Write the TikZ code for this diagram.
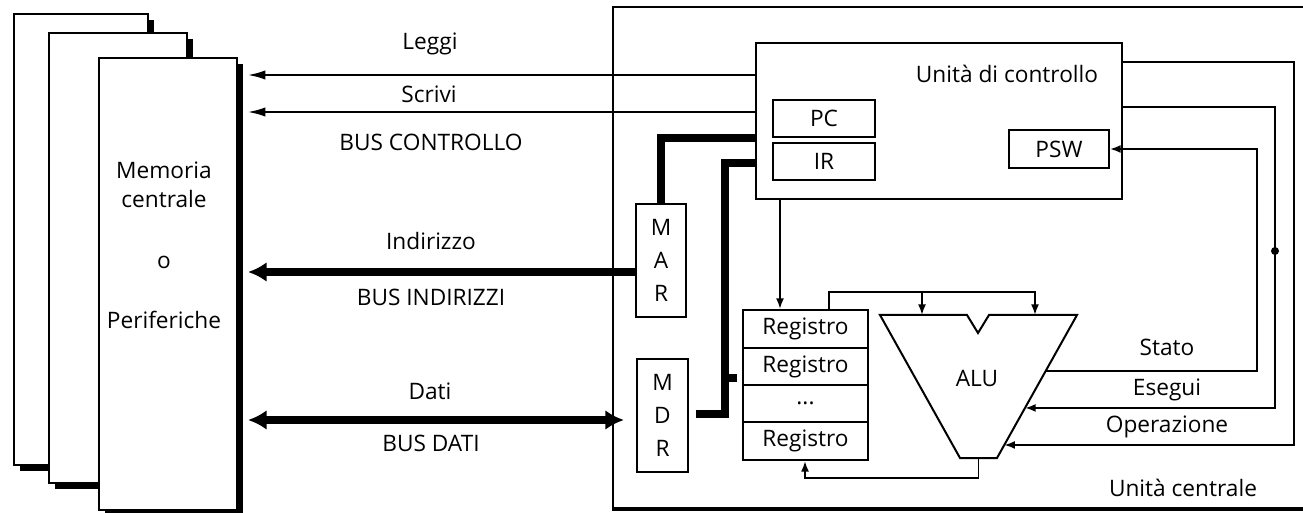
\documentclass[tikz,border=0pt]{standalone}
\usepackage{fontspec}
\setmainfont{Open Sans}
\usetikzlibrary{arrows.meta,fit,calc,shadows}

\begin{document}
\begin{tikzpicture}[x=0.75pt,y=0.75pt,yscale=-1,xscale=1,
  every node/.style={font=\fontsize{17}{20}\selectfont},
  box/.style={draw, line width=1.5pt, inner sep=0pt, fill=white},
  membox/.style={box, drop shadow={shadow xshift=4.5pt, shadow yshift=-4.5pt, fill=black, opacity=1}},
  lettere/.style={align=center, font=\fontsize{17}{24.75}\selectfont},
  sig/.style={line width=1.4pt, -{Latex[length=8pt,width=6pt]}},
  ctl/.style={line width=1.4pt, -{Latex[length=13pt,width=7pt]}},
  bus/.style={line width=6pt, -{Latex[length=14pt,width=15pt]}},
  busboth/.style={line width=6pt, {Latex[length=14pt,width=15pt]}-{Latex[length=14pt,width=15pt]}},
  busline/.style={line width=5.5pt}]
\useasboundingbox (0,0) rectangle (1303,513);

%Memoria centrale o periferiche
\node[membox, fit={(14,14) (148,465)}] (mem1) {};
\node[membox, fit={(49,33) (187,483)}] (mem2) {};
\node[membox, fit={(99,58) (237,510)}] (mem) {};
\node (memT1) at (164,170) {Memoria};
\node (memT2) at (164,199) {centrale};
\node (memT3) at (164,262) {o};
\node (memT4) at (164,320) {Periferiche};
\coordinate (memR) at ([xshift=7.5pt]mem.east);

%Unita centrale
\node[box, fit={(613,7) (1312,508)}] (cpu) {};
\draw[line width=3pt] (cpu.south west) -- (cpu.south east);
\node (cpuT) at (1183,488) {Unità centrale};

%Unita di controllo
\node[box, fit={(756,43) (1122,199)}] (cu) {};
\node (cuT) at (1007,74) {Unità di controllo};
\node[box, fit={(773,100) (875,137)}, label=center:PC] (pc) {};
\node[box, fit={(773,143) (875,180)}, label=center:IR] (ir) {};
\node[box, fit={(1009,130) (1109,168)}, label=center:PSW] (psw) {};

%MAR e MDR
\node[box, fit={(636,204) (686,317)}, label={[lettere]center:M\\A\\R}] (mar) {};
\node[box, fit={(637,359) (688,472)}, label={[lettere]center:M\\D\\R}] (mdr) {};

%Registri
\node[box, fit={(743,310) (868,348)}, label=center:Registro] (reg1) {};
\node[box, fit={(743,348) (868,385)}, label=center:Registro] (reg2) {};
\node[box, fit={(743,385) (868,422)}, label=center:...] (reg3) {};
\node[box, fit={(743,422) (868,460)}, label=center:Registro] (reg4) {};

%ALU
\coordinate (aluTL) at (880,315);
\coordinate (aluTR) at (1077,315);
\coordinate (aluBR) at (997,458);
\coordinate (aluBL) at (960,458);
\draw[line width=1.5pt] (aluTL) -- (967,315) -- (978,333) -- (989,315) -- (aluTR) -- (aluBR) -- (aluBL) -- cycle;
\node (alu) at (977,378) {ALU};
\coordinate (aluB) at ($(aluBL)!0.5!(aluBR)$);

%Bus controllo
\draw[ctl] (cu.west |- 0,75) -- (memR |- 0,75);
\draw[ctl] (cu.west |- 0,112) -- (memR |- 0,112);
\node (leggi) at (430,44) {Leggi};
\node (scrivi) at (429,94) {Scrivi};
\node (busC) at (431,142) {BUS CONTROLLO};

%Bus indirizzi
\draw[bus] (mar.west |- 0,272) -- (memR |- 0,272);
\node (indir) at (431,241) {Indirizzo};
\node (busI) at (431,297) {BUS INDIRIZZI};

%Bus dati
\draw[busboth, shorten <=9pt] (mdr.west |- 0,420) -- (memR |- 0,420);
\node (dati) at (430,391) {Dati};
\node (busD) at (431,443) {BUS DATI};

%collegamenti interni
\draw[busline] (mar.north) |- (cu.west |- 0,138);
\draw[busline, shorten <=5pt] (mdr.east |- 0,414) -- (725,414) |- (cu.west |- 0,163);
\draw[busline] (725,378) -- (737,378);

\draw[sig] (cu.south -| 780,0) -- (reg1.north -| 780,0);
\draw[sig] (reg1.north -| 829,0) |- (1035,292) -- (aluTR -| 1035,0);
\draw[sig] (922,292) -- (aluTL -| 922,0);
\draw[sig] (aluB) -- (aluB |- 0,478) -| (reg4.south -| 805,0);

%Segnali ALU
\draw[sig] (cu.east |- 0,62) -| (1294,445) -- ($(aluTR)!0.909!(aluBR)$);
\draw[sig] (cu.east |- 0,107) -| (1275,408) -- ($(aluTR)!0.650!(aluBR)$);
\fill (1275,251) circle[radius=4];
\draw[sig] ($(aluTR)!0.392!(aluBR)$) -| (psw.east -| 1257,0) -- (psw.east);
\node (stato) at (1167,347) {Stato};
\node (esegui) at (1167,390) {Esegui};
\node (oper) at (1167,427) {Operazione};

\end{tikzpicture}
\end{document}
